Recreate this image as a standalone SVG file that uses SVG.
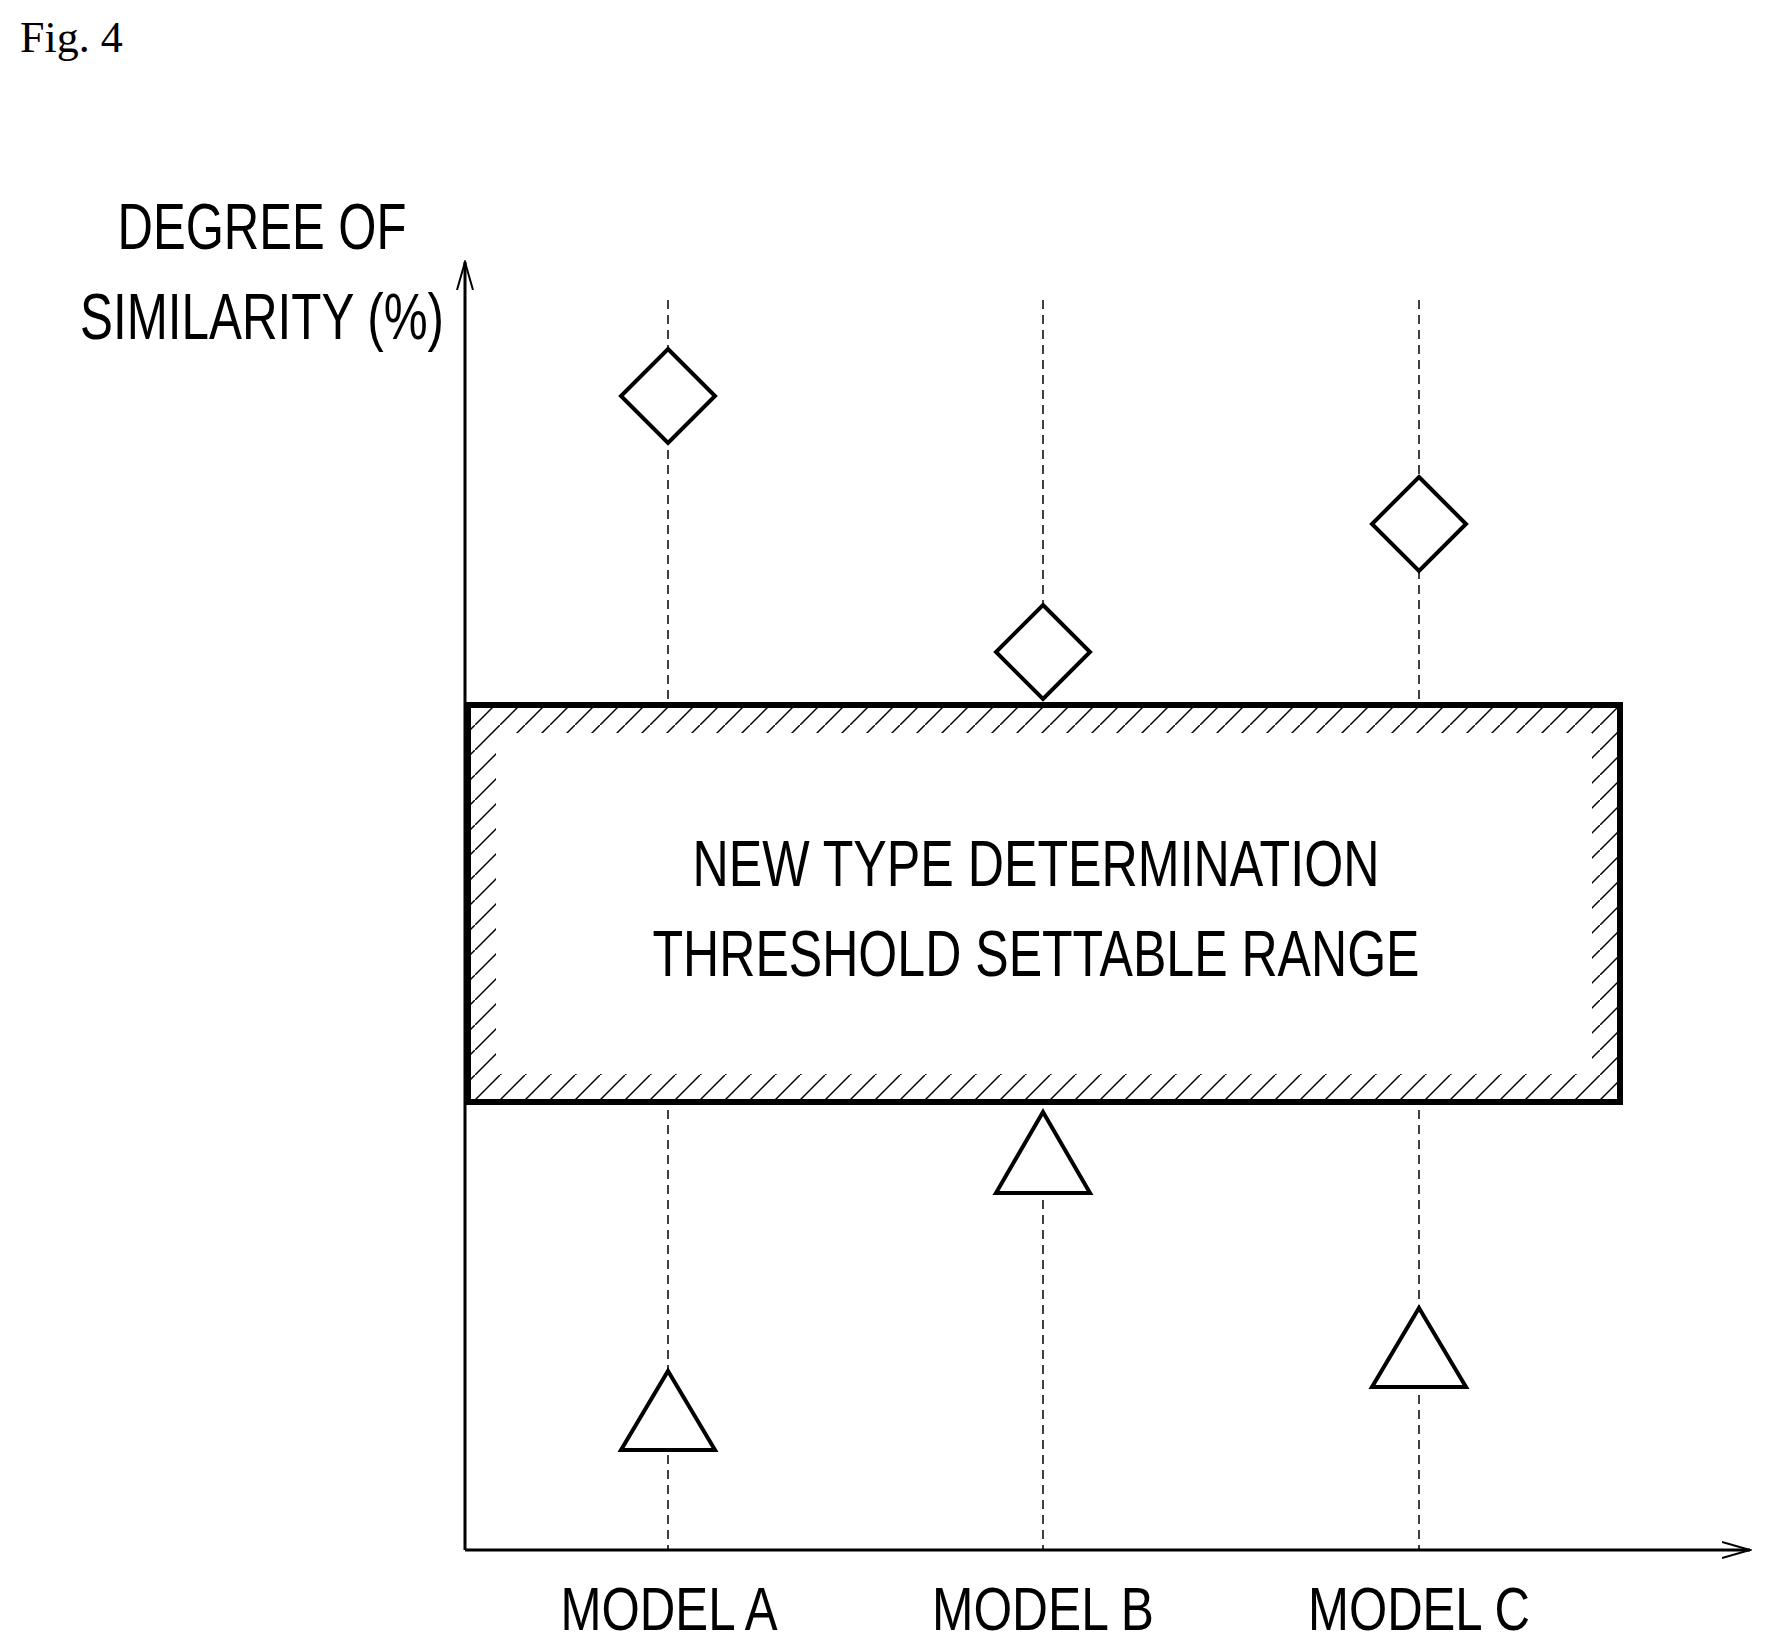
<svg xmlns="http://www.w3.org/2000/svg" width="1766" height="1649" viewBox="0 0 1766 1649">
<style>
.t{font-family:"Liberation Sans",Arial,sans-serif;fill:#000}
.d{stroke:#000;stroke-width:1.5;stroke-dasharray:9,6;fill:none}
.m{fill:#fff;stroke:#000;stroke-width:4}
</style>
<defs>
<pattern id="h" width="25" height="25" patternUnits="userSpaceOnUse">
<line x1="0" y1="25" x2="25" y2="0" stroke="#000" stroke-width="1.5"/>
</pattern>
<mask id="band">
<rect x="468" y="705" width="1152" height="397" fill="#fff"/>
<rect x="496" y="733" width="1096" height="341" fill="#000"/>
</mask>
<marker id="ar" markerWidth="30" markerHeight="20" refX="28" refY="10" orient="auto" markerUnits="userSpaceOnUse">
<path d="M0,2 L28,10 L0,18" fill="none" stroke="#000" stroke-width="2"/>
</marker>
</defs>
<text x="20" y="52" font-family="'Liberation Serif',serif" font-size="44">Fig. 4</text>
<g id="connectors">
<line class="d" x1="668" y1="300" x2="668" y2="1550"/>
<line class="d" x1="1043" y1="300" x2="1043" y2="1550"/>
<line class="d" x1="1419" y1="300" x2="1419" y2="1550"/>
<line x1="465" y1="1550" x2="465" y2="262" stroke="#000" stroke-width="3" marker-end="url(#ar)"/>
<line x1="465" y1="1550" x2="1750" y2="1550" stroke="#000" stroke-width="3" marker-end="url(#ar)"/>
</g>
<g id="range">
<rect x="468" y="705" width="1152" height="397" fill="#fff"/>
<rect x="468" y="705" width="1152" height="397" fill="url(#h)" mask="url(#band)"/>
<rect x="468" y="705" width="1152" height="397" fill="none" stroke="#000" stroke-width="6"/>
<text class="t" x="1036" y="886" font-size="64" text-anchor="middle" textLength="687" lengthAdjust="spacingAndGlyphs">NEW TYPE DETERMINATION</text>
<text class="t" x="1036" y="976" font-size="64" text-anchor="middle" textLength="767" lengthAdjust="spacingAndGlyphs">THRESHOLD SETTABLE RANGE</text>
</g>
<g id="ylabel">
<text class="t" x="262" y="249" font-size="64" text-anchor="middle" textLength="289" lengthAdjust="spacingAndGlyphs">DEGREE OF</text>
<text class="t" x="262" y="339" font-size="64" text-anchor="middle" textLength="364" lengthAdjust="spacingAndGlyphs">SIMILARITY (%)</text>
</g>
<g id="diamondA"><path class="m" d="M668,349 L715,396 L668,443 L621,396 Z"/></g>
<g id="diamondB"><path class="m" d="M1043,605 L1090,652 L1043,699 L996,652 Z"/></g>
<g id="diamondC"><path class="m" d="M1419,477 L1466,524 L1419,571 L1372,524 Z"/></g>
<g id="triA"><path class="m" d="M668,1371 L715,1450 L621,1450 Z"/></g>
<g id="triB"><path class="m" d="M1043,1112 L1090,1193 L996,1193 Z"/></g>
<g id="triC"><path class="m" d="M1419,1308 L1466,1387 L1372,1387 Z"/></g>
<g id="labels">
<text class="t" x="669" y="1630" font-size="62" text-anchor="middle" textLength="217" lengthAdjust="spacingAndGlyphs">MODEL A</text>
<text class="t" x="1043" y="1630" font-size="62" text-anchor="middle" textLength="222" lengthAdjust="spacingAndGlyphs">MODEL B</text>
<text class="t" x="1419" y="1630" font-size="62" text-anchor="middle" textLength="222" lengthAdjust="spacingAndGlyphs">MODEL C</text>
</g>
</svg>
